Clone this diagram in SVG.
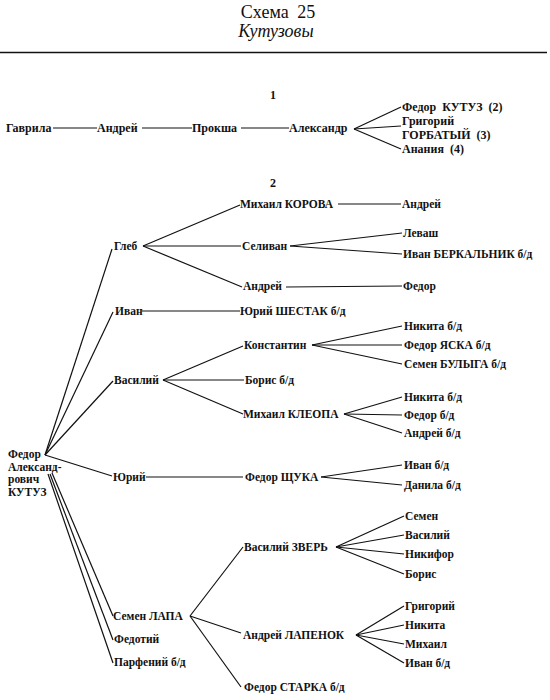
<svg xmlns="http://www.w3.org/2000/svg" width="550" height="700" viewBox="0 0 550 700">
<style>
text{font-family:"Liberation Serif","DejaVu Serif",serif;font-size:11.5px;font-weight:bold;fill:#111}
.t{font-weight:normal;font-size:18px;text-anchor:middle;word-spacing:4px}
.i{font-style:italic}
.s1{font-size:12px;word-spacing:3px}
.c line{stroke:#111;stroke-width:1.2;fill:none}
</style>
<rect width="550" height="700" fill="#fff"/>
<g id="title">
<text class="t" x="278" y="18">Схема 25</text>
<text class="t i" x="276" y="37">Кутузовы</text>
</g>
<line x1="0" y1="52.5" x2="547" y2="52.5" stroke="#111" stroke-width="1.5"/>

<g class="c" id="connectors">
<!-- section 1 -->
<line x1="53" y1="128" x2="97" y2="128"/>
<line x1="142" y1="128" x2="192" y2="128"/>
<line x1="241" y1="128" x2="289" y2="128"/>
<line x1="354" y1="129" x2="401" y2="107"/>
<line x1="354" y1="129" x2="401" y2="126"/>
<line x1="354" y1="129" x2="401" y2="149"/>
<!-- root -->
<line x1="45" y1="455" x2="112" y2="249"/>
<line x1="45" y1="455" x2="113" y2="312"/>
<line x1="45" y1="455" x2="113" y2="381"/>
<line x1="45" y1="455" x2="112" y2="476"/>
<line x1="52" y1="473" x2="113" y2="616"/>
<line x1="50" y1="474" x2="113" y2="640"/>
<line x1="48" y1="474" x2="113" y2="663"/>
<!-- Глеб -->
<line x1="143" y1="246" x2="240" y2="205"/>
<line x1="143" y1="246" x2="241" y2="246"/>
<line x1="143" y1="246" x2="242" y2="287"/>
<line x1="338" y1="204" x2="401" y2="204"/>
<line x1="290" y1="246" x2="402" y2="233"/>
<line x1="290" y1="246" x2="402" y2="254"/>
<line x1="286" y1="287" x2="402" y2="286"/>
<!-- Иван -->
<line x1="142" y1="311" x2="240" y2="311"/>
<!-- Василий -->
<line x1="163" y1="380" x2="243" y2="346"/>
<line x1="163" y1="380" x2="244" y2="380"/>
<line x1="163" y1="380" x2="243" y2="414"/>
<line x1="312" y1="345" x2="402" y2="326"/>
<line x1="312" y1="345" x2="402" y2="345"/>
<line x1="312" y1="345" x2="402" y2="364"/>
<line x1="344" y1="414" x2="402" y2="397"/>
<line x1="344" y1="414" x2="402" y2="415"/>
<line x1="344" y1="414" x2="402" y2="433"/>
<!-- Юрий -->
<line x1="146" y1="477" x2="243" y2="477"/>
<line x1="321" y1="477" x2="402" y2="465"/>
<line x1="321" y1="477" x2="402" y2="485"/>
<!-- Семен ЛАПА -->
<line x1="190" y1="616" x2="243" y2="547"/>
<line x1="190" y1="616" x2="241" y2="633"/>
<line x1="190" y1="616" x2="241" y2="687"/>
<line x1="336" y1="547" x2="404" y2="516"/>
<line x1="336" y1="547" x2="404" y2="535"/>
<line x1="336" y1="547" x2="404" y2="554"/>
<line x1="336" y1="547" x2="404" y2="574"/>
<line x1="356" y1="635" x2="404" y2="606"/>
<line x1="356" y1="635" x2="404" y2="625"/>
<line x1="356" y1="635" x2="404" y2="644"/>
<line x1="356" y1="635" x2="404" y2="663"/>
</g>

<g id="s1-label"><text class="s1" x="270" y="99">1</text></g>
<g id="n-gavrila"><text class="s1" x="6" y="132">Гаврила</text></g>
<g id="n-andrey0"><text class="s1" x="97" y="132">Андрей</text></g>
<g id="n-proksha"><text class="s1" x="192" y="132">Прокша</text></g>
<g id="n-aleksandr"><text class="s1" x="289" y="132">Александр</text></g>
<g id="n-fedor-kutuz"><text class="s1" x="402" y="111">Федор КУТУЗ (2)</text></g>
<g id="n-grigoriy-gorbaty"><text class="s1" x="402" y="125">Григорий</text><text class="s1" x="402" y="139">ГОРБАТЫЙ (3)</text></g>
<g id="n-ananiya"><text class="s1" x="402" y="153">Анания (4)</text></g>

<g id="s2-label"><text class="s1" x="270" y="187">2</text></g>
<g id="n-root"><text x="8" y="458">Федор</text><text x="8" y="470.5">Александ-</text><text x="8" y="483">рович</text><text x="8" y="495.5">КУТУЗ</text></g>
<g id="n-gleb"><text x="114" y="250">Глеб</text></g>
<g id="n-mikhail-korova"><text x="240" y="208">Михаил КОРОВА</text></g>
<g id="n-andrey1"><text x="402" y="208">Андрей</text></g>
<g id="n-selivan"><text x="242" y="250">Селиван</text></g>
<g id="n-levash"><text x="403" y="237">Леваш</text></g>
<g id="n-ivan-berkalnik"><text x="403" y="258">Иван БЕРКАЛЬНИК б/д</text></g>
<g id="n-andrey2"><text x="243" y="290">Андрей</text></g>
<g id="n-fedor1"><text x="403" y="290">Федор</text></g>
<g id="n-ivan"><text x="115" y="315">Иван</text></g>
<g id="n-yuriy-shestak"><text x="240" y="315">Юрий ШЕСТАК б/д</text></g>
<g id="n-vasiliy"><text x="114" y="384">Василий</text></g>
<g id="n-konstantin"><text x="244" y="349">Константин</text></g>
<g id="n-nikita1"><text x="404" y="330">Никита б/д</text></g>
<g id="n-fedor-yaska"><text x="404" y="349">Федор ЯСКА б/д</text></g>
<g id="n-semen-bulyga"><text x="404" y="368">Семен БУЛЫГА б/д</text></g>
<g id="n-boris1"><text x="245" y="384">Борис б/д</text></g>
<g id="n-mikhail-kleopa"><text x="243" y="418">Михаил КЛЕОПА</text></g>
<g id="n-nikita2"><text x="404" y="401">Никита б/д</text></g>
<g id="n-fedor2"><text x="404" y="419">Федор б/д</text></g>
<g id="n-andrey3"><text x="404" y="437">Андрей б/д</text></g>
<g id="n-yuriy"><text x="113" y="481">Юрий</text></g>
<g id="n-fedor-shchuka"><text x="245" y="481">Федор ЩУКА</text></g>
<g id="n-ivan2"><text x="404" y="469">Иван б/д</text></g>
<g id="n-danila"><text x="404" y="489">Данила б/д</text></g>
<g id="n-vasiliy-zver"><text x="244" y="551">Василий ЗВЕРЬ</text></g>
<g id="n-semen"><text x="405" y="520">Семен</text></g>
<g id="n-vasiliy2"><text x="405" y="539">Василий</text></g>
<g id="n-nikifor"><text x="405" y="558">Никифор</text></g>
<g id="n-boris2"><text x="405" y="578">Борис</text></g>
<g id="n-semen-lapa"><text x="113" y="620">Семен ЛАПА</text></g>
<g id="n-andrey-lapenok"><text x="243" y="639">Андрей ЛАПЕНОК</text></g>
<g id="n-grigoriy"><text x="405" y="610">Григорий</text></g>
<g id="n-nikita3"><text x="405" y="629">Никита</text></g>
<g id="n-mikhail"><text x="405" y="648">Михаил</text></g>
<g id="n-ivan3"><text x="405" y="667">Иван б/д</text></g>
<g id="n-fedotiy"><text x="114" y="643">Федотий</text></g>
<g id="n-parfeniy"><text x="114" y="666">Парфений б/д</text></g>
<g id="n-fedor-starka"><text x="244" y="691">Федор СТАРКА б/д</text></g>
</svg>
